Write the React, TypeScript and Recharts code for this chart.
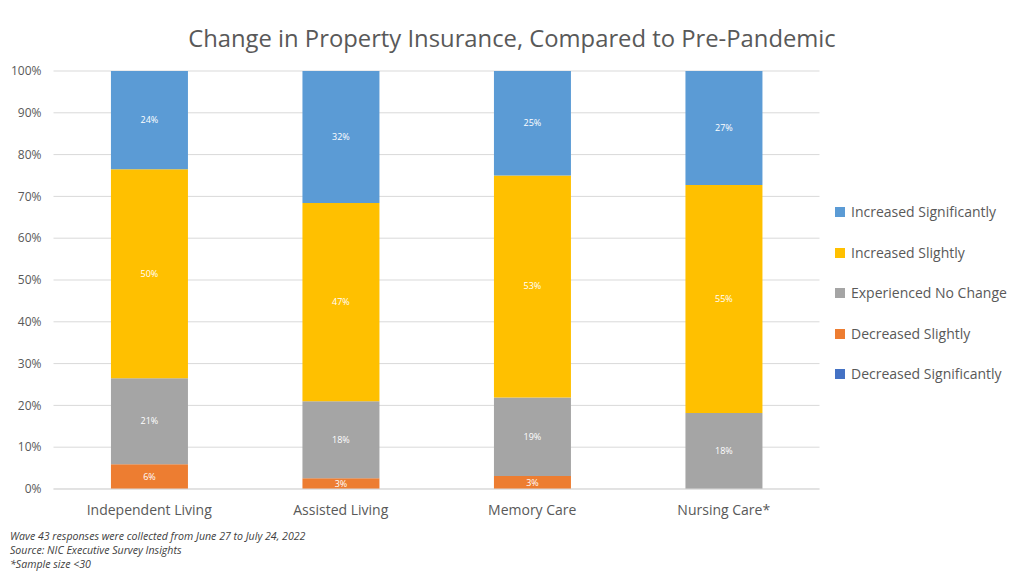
import React from "react";
import { BarChart, Bar, XAxis, YAxis, CartesianGrid, LabelList } from "recharts";

const categories = ["Independent Living", "Assisted Living", "Memory Care", "Nursing Care*"];
const decreasedSignificantly = [0, 0, 0, 0];
const decreasedSlightly = [5.9, 2.6, 3.1, 0];
const noChange = [20.6, 18.4, 18.8, 18.2];
const increasedSlightly = [50.0, 47.4, 53.1, 54.5];
const increasedSignificantly = [23.5, 31.6, 25.0, 27.3];
const yTicks = [0, 10, 20, 30, 40, 50, 60, 70, 80, 90, 100];

const series = [
  { key: "decSig", name: "Decreased Significantly", color: "#4472C4", values: decreasedSignificantly, label: false },
  { key: "decSl", name: "Decreased Slightly", color: "#ED7D31", values: decreasedSlightly, label: true },
  { key: "noCh", name: "Experienced No Change", color: "#A5A5A5", values: noChange, label: true },
  { key: "incSl", name: "Increased Slightly", color: "#FFC000", values: increasedSlightly, label: true },
  { key: "incSig", name: "Increased Significantly", color: "#5B9BD5", values: increasedSignificantly, label: true },
];

const data = categories.map((c, i) => {
  const row: any = { category: c };
  series.forEach((s) => (row[s.key] = s.values[i]));
  return row;
});

const FONT = "'Open Sans', 'Noto Sans', sans-serif";
const TEXT = "#595959";

const renderLabel = (props: any) => {
  const { x, y, width, height, value } = props;
  if (value === undefined || value === null) return null;
  const cx = Number(x) + Number(width) / 2;
  const cy = Number(y) + Number(height) / 2;
  return (
    <text x={cx} y={cy} dy={3} textAnchor="middle" fill="#FFFFFF" fontSize={9} fontFamily={FONT}>
      {`${Math.round(Number(value))}%`}
    </text>
  );
};

export default function App() {
  return (
    <div style={{ position: "absolute", left: 0, top: 0, width: 1024, height: 584, background: "#fff", fontFamily: FONT }}>
      <div style={{ position: "absolute", left: 0, width: 1024, top: 22, textAlign: "center", fontSize: 23.8, color: TEXT }}>
        Change in Property Insurance, Compared to Pre-Pandemic
      </div>
      <BarChart
        width={1024}
        height={584}
        data={data}
        margin={{ top: 71, right: 204.5, bottom: 65, left: 0 }}
        barCategoryGap="30%"
      >
        <CartesianGrid vertical={false} stroke="#D9D9D9" />
        <XAxis
          dataKey="category"
          axisLine={{ stroke: "#D9D9D9" }}
          tickLine={false}
          height={30}
          tick={{ fill: TEXT, fontSize: 14, fontFamily: FONT }}
          tickMargin={10}
        />
        <YAxis
          width={53.5}
          domain={[0, 100]}
          ticks={yTicks}
          axisLine={false}
          tickLine={false}
          tickFormatter={(v: number) => `${v}%`}
          tick={{ fill: TEXT, fontSize: 12, fontFamily: FONT }}
          tickMargin={6}
        />
        {series.map((s) => (
          <Bar key={s.key} dataKey={s.key} name={s.name} stackId="a" fill={s.color} isAnimationActive={false}>
            {s.label && <LabelList dataKey={s.key} content={renderLabel} />}
          </Bar>
        ))}
      </BarChart>
      <div style={{ position: "absolute", left: 835, top: 192 }}>
        {[...series].reverse().map((s) => (
          <div key={s.key} style={{ display: "flex", alignItems: "center", height: 40.5, fontSize: 14, color: TEXT }}>
            <span style={{ display: "inline-block", width: 10, height: 10, background: s.color, marginRight: 6 }} />
            <span style={{ lineHeight: "18px" }}>{s.name}</span>
          </div>
        ))}
      </div>
      <div style={{ position: "absolute", left: 10, top: 529, fontSize: 10.6, fontStyle: "italic", color: "#404040", lineHeight: "14px" }}>
        <div>Wave 43 responses were collected from June 27 to July 24, 2022</div>
        <div>Source: NIC Executive Survey Insights</div>
        <div>*Sample size &lt;30</div>
      </div>
    </div>
  );
}
